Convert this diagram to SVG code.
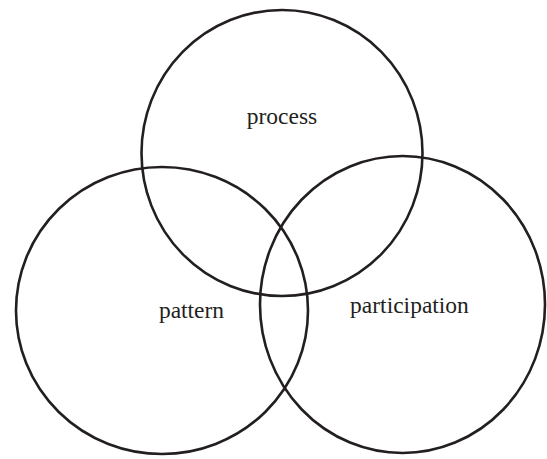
<svg xmlns="http://www.w3.org/2000/svg" width="547" height="459" viewBox="0 0 547 459">
<style>
.c{fill:none;stroke:#231f20;stroke-width:2.6}
.t{font-family:"Liberation Serif","Times New Roman",serif;font-size:23.5px;fill:#231f20;text-anchor:middle}
</style>
<rect width="547" height="459" fill="#fff"/>
<g id="process">
<ellipse class="c" cx="282" cy="153" rx="140.5" ry="143"/>
<text class="t" x="282" y="124">process</text>
</g>
<g id="pattern">
<ellipse class="c" cx="162" cy="310.5" rx="146" ry="143.5"/>
<text class="t" x="191.5" y="318">pattern</text>
</g>
<g id="participation">
<ellipse class="c" cx="402.5" cy="304.5" rx="142.5" ry="148.5"/>
<text class="t" x="409.5" y="312.5">participation</text>
</g>
<g id="connectors"></g>
</svg>
